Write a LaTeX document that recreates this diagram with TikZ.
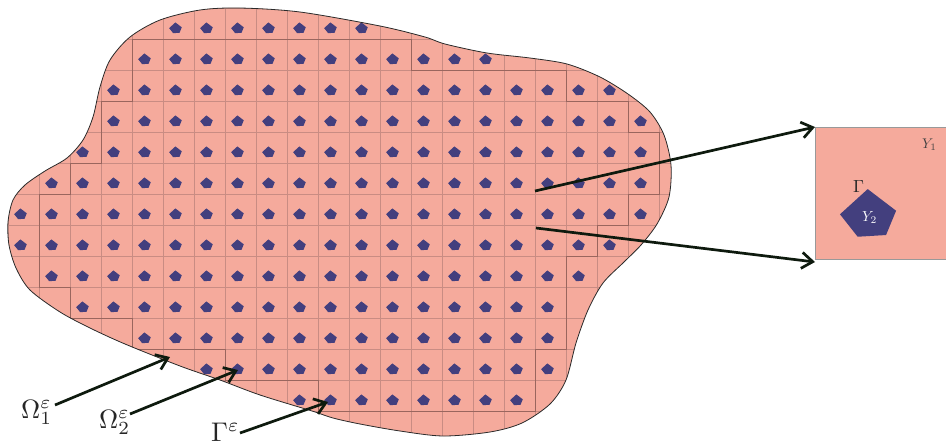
\documentclass[tikz,border=0pt]{standalone}
\usepackage{graphicx}
\usetikzlibrary{arrows.meta}
\definecolor{salmon}{HTML}{F5AA9C}
\definecolor{pent}{HTML}{433F7E}
\definecolor{gridlight}{HTML}{C98C83}
\definecolor{griddark}{HTML}{9A665E}
\definecolor{arr}{HTML}{0E1A0E}
\definecolor{outl}{HTML}{2A2A2A}
\begin{document}
\begin{tikzpicture}[x=1pt,y=-1pt,
  arrowline/.style={draw=arr, line width=2.7pt, -{Straight Barb[length=11pt,width=16pt]}},
  lab/.style={inner sep=0pt, anchor=base west, text=black!85},
  gridln/.style={draw=gridlight, line width=0.7pt},
  stair/.style={draw=griddark, line width=0.7pt}
]
\useasboundingbox (0,0) rectangle (946,445);

% domain
\fill[salmon] plot[smooth cycle, tension=0.5] coordinates {(240,8) (300,12) (380,26) (425,37) (445,44) (487,53) (530,58) (567,64) (600,77) (628,94) (650,112) (664,135) (671,165) (669,197) (657,224) (641,245) (624,262) (603,283) (588,310) (576,343) (566,380) (550,404) (522,423) (490,432) (443,436) (400,431) (360,424) (333,418) (312,411) (260,395) (220,380) (180,366) (125,344) (90,328) (60,312) (30,290) (16,268) (9,245) (8,222) (13,200) (25,185) (45,171) (67,158) (83,140) (93,117) (100,87) (110,60) (130,37) (160,20) (200,10)};

\begin{scope}
\clip plot[smooth cycle, tension=0.5] coordinates {(240,8) (300,12) (380,26) (425,37) (445,44) (487,53) (530,58) (567,64) (600,77) (628,94) (650,112) (664,135) (671,165) (669,197) (657,224) (641,245) (624,262) (603,283) (588,310) (576,343) (566,380) (550,404) (522,423) (490,432) (443,436) (400,431) (360,424) (333,418) (312,411) (260,395) (220,380) (180,366) (125,344) (90,328) (60,312) (30,290) (16,268) (9,245) (8,222) (13,200) (25,185) (45,171) (67,158) (83,140) (93,117) (100,87) (110,60) (130,37) (160,20) (200,10)};
\begin{scope}[shift={(8.7,8.3)}, x=31pt, y=-31pt]
  \foreach \e in {-1,...,22} \draw[gridln] (\e,-1) -- (\e,15);
  \foreach \f in {-1,...,15} \draw[gridln] (-1,\f) -- (23,\f);
  \draw[stair] (4,1) -- (13,1) -- (13,2) -- (18,2) -- (18,3) -- (20,3) -- (20,4) -- (21,4) -- (21,6) -- (20,6) -- (20,7) -- (19,7) -- (19,8) -- (18,8) -- (18,11) -- (17,11) -- (17,13) -- (10,13) -- (10,12) -- (7,12) -- (7,11) -- (4,11) -- (4,10) -- (2,10) -- (2,9) -- (1,9) -- (1,6) -- (2,6) -- (2,5) -- (3,5) -- (3,3) -- (4,3) -- cycle;
  \foreach \r/\a/\b in {0/5/11, 1/4/15, 2/3/19, 3/3/20, 4/2/20, 5/1/20, 6/0/20, 7/0/19, 8/1/18, 9/2/17, 10/4/17, 11/6/17, 12/9/16} {
    \foreach \k in {\a,...,\b} {
      \fill[pent, shift={(\k+0.39,\r+0.66)}, scale=0.96] (-0.0136,-0.213) -- (0.2014,-0.049) -- (0.1254,0.135) -- (-0.0896,0.148) -- (-0.2236,-0.022) -- cycle;
    }
  }
\end{scope}
\end{scope}
\draw[outl, line width=0.8pt] plot[smooth cycle, tension=0.5] coordinates {(240,8) (300,12) (380,26) (425,37) (445,44) (487,53) (530,58) (567,64) (600,77) (628,94) (650,112) (664,135) (671,165) (669,197) (657,224) (641,245) (624,262) (603,283) (588,310) (576,343) (566,380) (550,404) (522,423) (490,432) (443,436) (400,431) (360,424) (333,418) (312,411) (260,395) (220,380) (180,366) (125,344) (90,328) (60,312) (30,290) (16,268) (9,245) (8,222) (13,200) (25,185) (45,171) (67,158) (83,140) (93,117) (100,87) (110,60) (130,37) (160,20) (200,10)};

% unit cell
\node[draw=black!40, line width=0.6pt, fill=salmon, minimum width=132pt, minimum height=132pt, inner sep=0pt, anchor=north west] (cell) at (815,127) {};
\fill[pent, shift={(869.5,217.2)}, scale=132] (-0.0136,-0.213) -- (0.2014,-0.049) -- (0.1254,0.135) -- (-0.0896,0.148) -- (-0.2236,-0.022) -- cycle;
\node[lab, text=black!75] (y1) at (922,148) {\scalebox{1.4}{$Y_1$}};
\node[lab] (gam) at (853,192) {\scalebox{1.75}{$\Gamma$}};
\node[lab, text=white] (y2) at (862,221) {\scalebox{1.45}{$Y_2$}};

% zoom arrows
\coordinate (m1) at (535,191);
\coordinate (m2) at (536,228);
\coordinate (m2e) at (815,262);
\draw[arrowline] (m1) -- (cell.north west);
\draw[arrowline] (m2) -- (m2e);

% labels
\node[lab] (o1) at (21,418) {\scalebox{2.65}{$\Omega_1^{\varepsilon}$}};
\node[lab] (o2) at (99,428) {\scalebox{2.65}{$\Omega_2^{\varepsilon}$}};
\node[lab] (ge) at (211,441) {\scalebox{2.7}{$\Gamma^{\varepsilon}$}};
\coordinate (s1) at (55,405);
\coordinate (t1) at (170,357);
\coordinate (s2) at (130,414);
\coordinate (t2) at (238,370);
\coordinate (s3) at (240,433);
\coordinate (t3) at (328,402);
\draw[arrowline] (s1) -- (t1);
\draw[arrowline] (s2) -- (t2);
\draw[arrowline] (s3) -- (t3);
\end{tikzpicture}
\end{document}
